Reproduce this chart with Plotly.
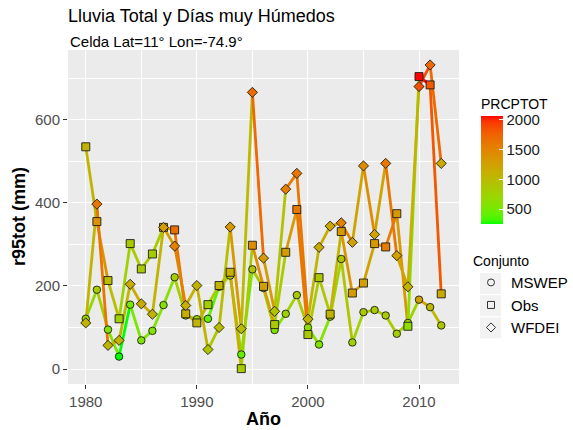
import plotly.graph_objects as go

# ---------------- data ----------------
years = list(range(1980, 2013))

obs_r95 = [535, 355, 213, 121, 302, 241, 277, 341, 335, 133, 111, 155, 201, 233, 1, 298,
           199, 107, 281, 384, 83, 220, 132, 331, 183, 207, 302, 294, 374, 103, 704, 684, 181]
mswep_r95 = [121, 191, 95, 30, 155, 69, 92, 154, 221, 129, 120, 121, 198, 225, 35, 240,
             195, 94, 133, 178, 100, 59, 126, 265, 64, 137, 142, 129, 85, 111, 167, 149, 105]
wfdei_r95 = [111, 397, 57, 69, 204, 157, 132, 341, 296, 153, 201, 47, 100, 342, 97, 666,
             267, 139, 433, 471, 120, 293, 344, 352, 305, 489, 324, 495, 273, 198, 680, 732, 495]

obs_prcp = [1062, 1372, 970, 757, 847, 829, 829, 1244, 1664, 1116, 1062, 793, 1065, 1119, 829, 1427,
            1244, 847, 1299, 1610, 847, 884, 1062, 1336, 1299, 1244, 1336, 1555, 1336, 648, 2060, 1810, 1153]
mswep_prcp = [700, 790, 570, 250, 515, 570, 570, 605, 790, 750, 750, 430, 750, 825, 430, 880,
              790, 570, 750, 845, 605, 570, 750, 880, 750, 845, 845, 825, 790, 750, 1245, 1010, 880]
wfdei_prcp = [1062, 1610, 1062, 1062, 1153, 1153, 1062, 1299, 1518, 1116, 1062, 884, 974, 1336, 1010, 1701,
              1299, 920, 1555, 1610, 1062, 1153, 1190, 1518, 1244, 1427, 1244, 1610, 1244, 1062, 1847, 1701, 1153]

series_names = ["MSWEP", "Obs", "WFDEI"]
colorbar_ticks = [500, 1000, 1500, 2000]

# ---------------- colour helpers (Lab gradient like ggplot) ----------------
XN, YN, ZN = 0.95047, 1.0, 1.08883


def _lin(c):
    c = c / 255.0
    return c / 12.92 if c <= 0.04045 else ((c + 0.055) / 1.055) ** 2.4


def _gam(c):
    c = max(0.0, min(1.0, c))
    v = 12.92 * c if c <= 0.0031308 else 1.055 * c ** (1 / 2.4) - 0.055
    return int(round(v * 255))


def hex_to_lab(h):
    r, g, b = [_lin(int(h[i:i + 2], 16)) for i in (1, 3, 5)]
    X = 0.4124564 * r + 0.3575761 * g + 0.1804375 * b
    Y = 0.2126729 * r + 0.7151522 * g + 0.0721750 * b
    Z = 0.0193339 * r + 0.1191920 * g + 0.9503041 * b

    def f(t):
        return t ** (1 / 3) if t > 216 / 24389 else (24389 / 27 * t + 16) / 116

    fx, fy, fz = f(X / XN), f(Y / YN), f(Z / ZN)
    return 116 * fy - 16, 500 * (fx - fy), 200 * (fy - fz)


def lab_to_hex(L, a, b):
    fy = (L + 16) / 116
    fx = fy + a / 500
    fz = fy - b / 200

    def finv(t):
        return t ** 3 if t ** 3 > 216 / 24389 else (116 * t - 16) / (24389 / 27)

    X, Y, Z = XN * finv(fx), YN * finv(fy), ZN * finv(fz)
    r = 3.2404542 * X - 1.5371385 * Y - 0.4985314 * Z
    g = -0.9692660 * X + 1.8760108 * Y + 0.0415560 * Z
    bb = 0.0556434 * X - 0.2040259 * Y + 1.0572252 * Z
    return "#%02X%02X%02X" % (_gam(r), _gam(g), _gam(bb))


LOW_LAB = hex_to_lab("#00FF00")
HIGH_LAB = hex_to_lab("#FF0000")


def grad(t):
    t = max(0.0, min(1.0, t))
    return lab_to_hex(*[lo + (hi - lo) * t for lo, hi in zip(LOW_LAB, HIGH_LAB)])


colorscale = [[i / 40, grad(i / 40)] for i in range(41)]
all_prcp = obs_prcp + mswep_prcp + wfdei_prcp
cmin, cmax = min(all_prcp), max(all_prcp)

r95 = {"MSWEP": mswep_r95, "Obs": obs_r95, "WFDEI": wfdei_r95}
prcp = {"MSWEP": mswep_prcp, "Obs": obs_prcp, "WFDEI": wfdei_prcp}
symbols = {"MSWEP": "circle", "Obs": "square", "WFDEI": "diamond"}
sizes = {"MSWEP": 7.5, "Obs": 8, "WFDEI": 7.8}

# figure geometry (pixels)
W, H = 573, 430
ML, MR, MT, MB = 68, 114, 50, 46
PW, PH = W - ML - MR, H - MT - MB


def px_x(p):
    return (p - ML) / PW


def px_y(p):
    return (H - MB - p) / PH


fig = go.Figure()

# lines: each segment coloured by its starting point
for name in series_names:
    ys, ps = r95[name], prcp[name]
    for i in range(len(years) - 1):
        fig.add_trace(go.Scatter(
            x=[years[i], years[i + 1]], y=[ys[i], ys[i + 1]], mode="lines",
            line=dict(color=grad((ps[i] - cmin) / (cmax - cmin)), width=2.8),
            showlegend=False, hoverinfo="skip"))

# points
for k, name in enumerate(series_names):
    fig.add_trace(go.Scatter(
        x=years, y=r95[name], mode="markers", showlegend=False,
        marker=dict(symbol=symbols[name], size=sizes[name], color=prcp[name],
                    colorscale=colorscale, cmin=cmin, cmax=cmax,
                    line=dict(color="rgba(20,20,20,0.85)", width=1),
                    showscale=(k == 0),
                    colorbar=dict(
                        title=dict(text="PRCPTOT", side="top",
                                   font=dict(size=14, color="#000000")),
                        thickness=22, len=129, lenmode="pixels",
                        x=px_x(481), xanchor="left", xpad=0,
                        y=px_y(95), yanchor="top", ypad=0,
                        tickvals=colorbar_ticks, ticks="inside", ticklen=4,
                        tickcolor="white", tickwidth=1, outlinewidth=0,
                        tickfont=dict(size=15, color="#1A1A1A"))),
    ))

# legend entries
for name in series_names:
    fig.add_trace(go.Scatter(
        x=[None], y=[None], mode="markers", name=name, legendgroup=name,
        marker=dict(symbol=symbols[name] + "-open", size=7, color="#333333",
                    line=dict(width=1))))

# grey key backgrounds of the discrete legend
key_shapes = []
for j in range(3):
    cy = 283.5 + j * 22.2
    key_shapes.append(dict(type="rect", xref="paper", yref="paper",
                           x0=px_x(480), x1=px_x(501),
                           y0=px_y(cy + 10.5), y1=px_y(cy - 10.5),
                           fillcolor="#F2F2F2", line=dict(width=0), layer="below"))

fig.update_layout(
    width=W, height=H,
    margin=dict(l=ML, r=MR, t=MT, b=MB, autoexpand=False),
    paper_bgcolor="white", plot_bgcolor="#EBEBEB",
    font=dict(family="Liberation Sans, Arial, sans-serif", color="#000000"),
    showlegend=True,
    legend=dict(title=dict(text="Conjunto", font=dict(size=14)),
                font=dict(size=15), x=px_x(471), xanchor="left", y=px_y(248), yanchor="top",
                traceorder="grouped", tracegroupgap=0, bgcolor="rgba(0,0,0,0)",
                entrywidth=50, entrywidthmode="pixels"),
    title=dict(text="Lluvia Total y Días muy Húmedos", x=0, xref="paper", xanchor="left",
               y=1 - 16 / H, yref="container", yanchor="middle",
               font=dict(size=18, color="#000000")),
    shapes=key_shapes,
    annotations=[
        dict(text="Celda Lat=11° Lon=-74.9°", x=0, xref="paper", xanchor="left",
             y=px_y(41), yref="paper", yanchor="middle", showarrow=False,
             font=dict(size=15, color="#000000")),
        dict(text="<b>Año</b>", x=0.5, xref="paper", xanchor="center",
             y=px_y(419), yref="paper", yanchor="middle", showarrow=False,
             font=dict(size=18, color="#000000")),
        dict(text="<b>r95tot (mm)</b>", x=px_x(19), xref="paper", xanchor="center",
             y=0.5, yref="paper", yanchor="middle", showarrow=False, textangle=-90,
             font=dict(size=18, color="#000000")),
    ],
)

fig.update_xaxes(range=[1978.4, 2013.6], tickvals=[1980, 1990, 2000, 2010],
                 ticks="outside", ticklen=4, tickcolor="#333333", tickwidth=1,
                 tickfont=dict(size=15, color="#4D4D4D"), automargin=False,
                 showgrid=True, gridcolor="white", gridwidth=1.2, zeroline=False,
                 minor=dict(tickvals=[1985, 1995, 2005], showgrid=True,
                            gridcolor="white", gridwidth=0.6, ticks=""),
                 showline=False)
fig.update_yaxes(range=[-36, 768], tickvals=[0, 200, 400, 600],
                 ticks="outside", ticklen=4, tickcolor="#333333", tickwidth=1,
                 tickfont=dict(size=15, color="#4D4D4D"), automargin=False,
                 showgrid=True, gridcolor="white", gridwidth=1.2, zeroline=False,
                 minor=dict(tickvals=[100, 300, 500, 700], showgrid=True,
                            gridcolor="white", gridwidth=0.6, ticks=""),
                 showline=False)

fig.write_html("out.html", config={"displayModeBar": False},
               post_script="document.body.style.margin='0';document.body.style.padding='0';")
